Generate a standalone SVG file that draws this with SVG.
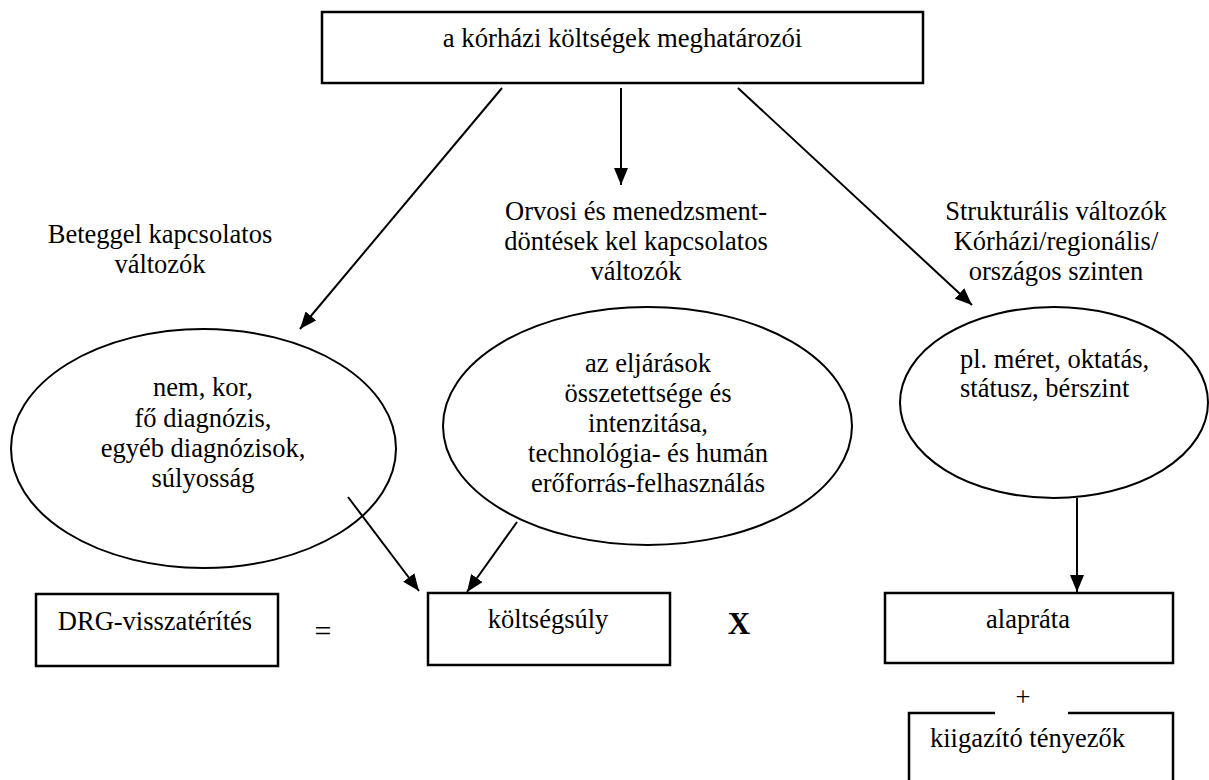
<svg xmlns="http://www.w3.org/2000/svg" width="1209" height="780" viewBox="0 0 1209 780">
<defs>
<marker id="ah" markerUnits="userSpaceOnUse" markerWidth="18" markerHeight="14" refX="17" refY="7" orient="auto">
<path d="M0,0 L17,7 L0,14 z" fill="#000"/>
</marker>
</defs>
<rect width="1209" height="780" fill="#fff"/>
<g font-family="'Liberation Serif', 'Times New Roman', serif" font-size="26.5" fill="#000">

<g id="top">
<rect x="322" y="12" width="601" height="71" fill="#fff" stroke="#000" stroke-width="2.5"/>
<text x="622.5" y="47" text-anchor="middle" font-size="26.7">a kórházi költségek meghatározói</text>
</g>

<g id="label-beteg" text-anchor="middle">
<text x="160" y="243">Beteggel kapcsolatos</text>
<text x="160" y="273">változók</text>
</g>
<g id="label-orvosi" text-anchor="middle">
<text x="636" y="220">Orvosi és menedzsment-</text>
<text x="636" y="250">döntések kel kapcsolatos</text>
<text x="636" y="280">változók</text>
</g>
<g id="label-strukt" text-anchor="middle">
<text x="1056" y="220">Strukturális változók</text>
<text x="1056" y="250">Kórházi/regionális/</text>
<text x="1056" y="280">országos szinten</text>
</g>

<g id="ell-beteg" text-anchor="middle">
<ellipse cx="203.5" cy="448.5" rx="192.5" ry="119.5" fill="#fff" stroke="#000" stroke-width="2"/>
<text x="203" y="396">nem, kor,</text>
<text x="203" y="427">fő diagnózis,</text>
<text x="203" y="457">egyéb diagnózisok,</text>
<text x="203" y="487">súlyosság</text>
</g>
<g id="ell-orvosi" text-anchor="middle">
<ellipse cx="647.5" cy="426" rx="204.5" ry="119" fill="#fff" stroke="#000" stroke-width="2"/>
<text x="648" y="372">az eljárások</text>
<text x="648" y="402">összetettsége és</text>
<text x="648" y="432">intenzitása,</text>
<text x="648" y="462">technológia- és humán</text>
<text x="648" y="492">erőforrás-felhasználás</text>
</g>
<g id="ell-strukt">
<ellipse cx="1054" cy="402.5" rx="154" ry="95.5" fill="#fff" stroke="#000" stroke-width="2"/>
<text x="960" y="368">pl. méret, oktatás,</text>
<text x="960" y="397">státusz, bérszint</text>
</g>

<g id="drg">
<rect x="36" y="594" width="242" height="72" fill="#fff" stroke="#000" stroke-width="2.5"/>
<text x="155" y="630" text-anchor="middle">DRG-visszatérítés</text>
</g>
<g id="eq">
<text x="323" y="641" text-anchor="middle" font-size="30">=</text>
</g>
<g id="koltsegsuly">
<rect x="428" y="593" width="242" height="72" fill="#fff" stroke="#000" stroke-width="2.5"/>
<text x="548" y="628" text-anchor="middle">költségsúly</text>
</g>
<g id="x">
<text x="739" y="634" text-anchor="middle" font-weight="bold" font-size="31">X</text>
</g>
<g id="alaprata">
<rect x="885" y="593" width="288" height="70" fill="#fff" stroke="#000" stroke-width="2.5"/>
<text x="1028" y="628" text-anchor="middle">alapráta</text>
</g>
<g id="kiigazito">
<rect x="909" y="713" width="264" height="90" fill="#fff" stroke="#000" stroke-width="2.5"/>
<rect x="995" y="700" width="73" height="15" fill="#fff"/>
<text x="930" y="747">kiigazító tényezők</text>
</g>
<g id="plus">
<text x="1023" y="706" text-anchor="middle">+</text>
</g>
</g>

<g id="connectors" stroke="#000" stroke-width="2" fill="none" marker-end="url(#ah)">
<line x1="502" y1="88" x2="300" y2="329"/>
<line x1="621" y1="88" x2="621" y2="185"/>
<line x1="738" y1="88" x2="972" y2="305"/>
<line x1="348" y1="497" x2="419" y2="591"/>
<line x1="517" y1="522" x2="467" y2="592"/>
<line x1="1077" y1="498" x2="1077" y2="592"/>
</g>
</svg>
